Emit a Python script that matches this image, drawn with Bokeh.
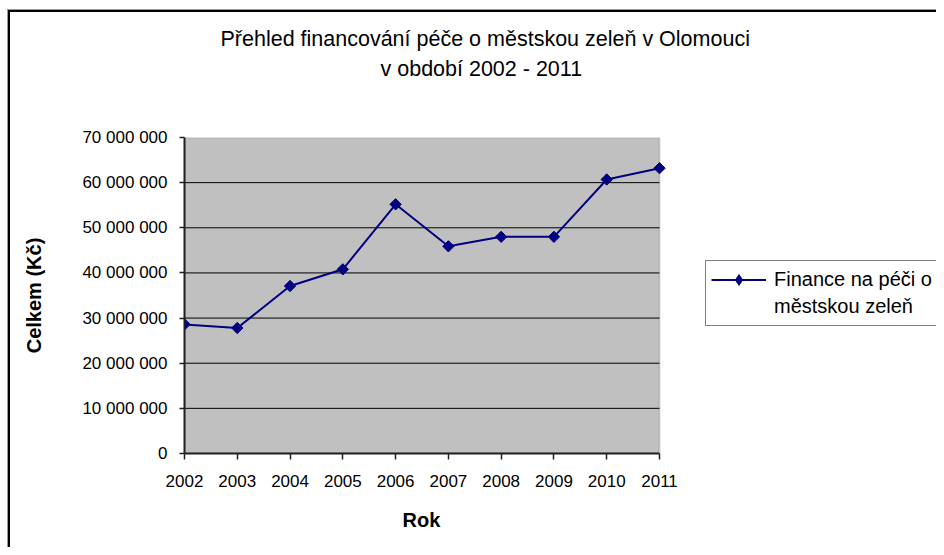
import numpy as np
from bokeh.plotting import figure
from bokeh.models import Range1d, FixedTicker, Legend, LegendItem, Title, BoxAnnotation
from bokeh.embed import file_html
from bokeh.resources import INLINE

# ---- data ----
years = [2002, 2003, 2004, 2005, 2006, 2007, 2008, 2009, 2010, 2011]
values = [28_600_000, 27_800_000, 37_100_000, 40_800_000, 55_200_000,
          45_900_000, 48_000_000, 48_000_000, 60_700_000, 63_200_000]
y_ticks = [0, 10_000_000, 20_000_000, 30_000_000, 40_000_000,
           50_000_000, 60_000_000, 70_000_000]
y_tick_labels = ["0", "10 000 000", "20 000 000", "30 000 000", "40 000 000",
                 "50 000 000", "60 000 000", "70 000 000"]
title_line1 = "Přehled financování péče o městskou zeleň v Olomouci"
title_line2 = "v období 2002 - 2011"
series_name_lines = ["Finance na péči o", "městskou zeleň"]
x_label = "Rok"
y_label = "Celkem (Kč)"

FONT = "Liberation Sans"
NAVY = "#000080"

# layout (px): plot area 184..659 wide; the frame continues to the canvas edge
W, H = 936, 547
AREA_L, AREA_R = 184, 659
x_end = years[-1] + (W - AREA_R) * (years[-1] - years[0]) / (AREA_R - AREA_L)

# outer chart border (left and top edges) drawn as inset shadows of the host
frame_styles = {
    "background-color": "#ffffff",
    "box-shadow": ("inset 7px 9px 0 0 #ffffff, inset 8px 10px 0 0 #999999, "
                   "inset 10px 12px 0 0 #000000"),
}

p = figure(width=W, height=H, output_backend="svg", toolbar_location=None,
           x_range=Range1d(years[0], x_end), y_range=Range1d(y_ticks[0], y_ticks[-1]),
           min_border_left=AREA_L, min_border_right=0, min_border_top=137,
           min_border_bottom=94, styles=frame_styles)
p.background_fill_color = "white"
p.background_fill_alpha = 0
p.border_fill_alpha = 0
p.outline_line_color = None
p.xgrid.visible = False
p.ygrid.visible = False

# plot area (grey) with grey border
p.add_layout(BoxAnnotation(left=years[0], right=years[-1], bottom=y_ticks[0], top=y_ticks[-1],
                           fill_color="#C0C0C0", fill_alpha=1,
                           line_color="#808080", line_width=2, level="underlay"))
# horizontal gridlines across the plot area
gy = y_ticks[1:-1]
p.segment(x0=[years[0]] * len(gy), y0=gy, x1=[years[-1]] * len(gy), y1=gy,
          line_color="black", line_width=1)

# axes
for ax in (p.xaxis[0], p.yaxis[0]):
    ax.axis_line_color = "#202020"
    ax.axis_line_width = 2
    ax.major_tick_line_color = "#202020"
    ax.major_tick_line_width = 1.5
    ax.major_tick_in = 0
    ax.minor_tick_line_color = None
    ax.major_label_text_font = FONT
    ax.major_label_text_font_size = "17px"
    ax.major_label_text_color = "black"
    ax.axis_label_text_font = FONT
    ax.axis_label_text_font_size = "20px"
    ax.axis_label_text_font_style = "bold"
    ax.axis_label_text_color = "black"

p.xaxis.ticker = FixedTicker(ticks=years)
p.xaxis.bounds = (years[0], years[-1])
p.xaxis.major_tick_out = 6
p.xaxis.major_label_standoff = 15

p.yaxis.ticker = FixedTicker(ticks=y_ticks)
p.yaxis.major_label_overrides = {t: l for t, l in zip(y_ticks, y_tick_labels)}
p.yaxis.major_tick_out = 5
p.yaxis.major_label_standoff = 12
p.yaxis.axis_label = y_label
p.yaxis.axis_label_standoff = 34

# x-axis title, centred under the plot area
p.add_layout(Title(text=x_label, align="left", offset=218, standoff=34,
                   text_font=FONT, text_font_size="20px", text_font_style="bold",
                   text_color="black"), "below")

# series
ln = p.line(years, values, line_color=NAVY, line_width=2)
mk = p.scatter(years, values, marker="square", angle=np.pi / 4, size=8,
               fill_color=NAVY, line_color=NAVY)
# legend key marker (not shown in the plot itself)
key = p.scatter(years, values, marker="diamond", size=13,
                fill_color=NAVY, line_color=NAVY, visible=False)
blank = p.scatter(years, values, marker="dot", size=1, fill_alpha=0, line_alpha=0,
                  visible=False)

legend = Legend(items=[LegendItem(label=series_name_lines[0], renderers=[ln, key]),
                       LegendItem(label=series_name_lines[1], renderers=[blank])],
                location=(705 - AREA_L, 453 - 326), orientation="vertical",
                border_line_color="black", border_line_width=1,
                background_fill_color="white", background_fill_alpha=1,
                inactive_fill_alpha=0,
                padding=5, margin=0, spacing=0,
                glyph_width=55, glyph_height=27, label_height=27, label_standoff=8,
                label_text_font=FONT, label_text_font_size="20px",
                label_text_color="black")
p.add_layout(legend, "center")

# titles: first added sits nearest the frame
p.add_layout(Title(text=" ", standoff=28, text_font=FONT, text_font_size="21px"), "above")
p.add_layout(Title(text=title_line2, align="left", offset=196, standoff=8,
                   text_font=FONT, text_font_size="21.5px", text_font_style="normal",
                   text_color="black"), "above")
p.add_layout(Title(text=title_line1, align="left", offset=36, standoff=0,
                   text_font=FONT, text_font_size="21.5px", text_font_style="normal",
                   text_color="black"), "above")

open("out.html", "w").write(file_html(p, INLINE))
